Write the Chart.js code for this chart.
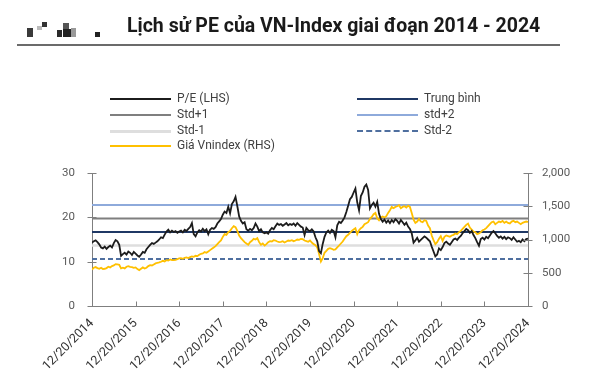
<!DOCTYPE html>
<html><head><meta charset="utf-8">
<script src="https://cdn.jsdelivr.net/npm/chart.js@4"></script>
<style>
html,body{margin:0;padding:0;background:#fff;}
#wrap{position:relative;width:602px;height:376px;overflow:hidden;font-family:Roboto,"Noto Sans",sans-serif;}
#c{position:absolute;left:0;top:0;}
#title{position:absolute;left:127px;top:14px;font-size:19.5px;font-weight:700;color:#1a1a1a;white-space:nowrap;}
#rule{position:absolute;left:17px;top:44px;width:543px;height:2px;background:#6b6b6b;}
.blk{position:absolute;}
.leg{position:absolute;font-size:12px;color:#404040;white-space:nowrap;}
.sw{position:absolute;width:61px;height:0;}
</style></head>
<body><div id="wrap">
<canvas id="c" width="602" height="376"></canvas>
<div class="blk" style="left:27px;top:28px;width:6px;height:9px;background:#3a3a3a"></div>
<div class="blk" style="left:37px;top:26px;width:5px;height:4px;background:#bbb"></div>
<div class="blk" style="left:42px;top:22px;width:5px;height:5px;background:#333"></div>
<div class="blk" style="left:57px;top:30px;width:5px;height:7px;background:#2a2a2a"></div>
<div class="blk" style="left:63px;top:23px;width:6px;height:6px;background:#555"></div>
<div class="blk" style="left:63px;top:29px;width:8px;height:8px;background:#222"></div>
<div class="blk" style="left:71px;top:28px;width:5px;height:9px;background:#999"></div>
<div class="blk" style="left:95px;top:32px;width:5px;height:5px;background:#222"></div>
<div id="title">Lịch sử PE của VN-Index giai đoạn 2014 - 2024</div>
<div id="rule"></div>
<div id="legend"></div>
</div>
<script>
// ---------- DATA ----------
const xTickLabels = ['12/20/2014','12/20/2015','12/20/2016','12/20/2017','12/20/2018','12/20/2019','12/20/2020','12/20/2021','12/20/2022','12/20/2023','12/20/2024'];
const pointsPerYear = 24; // semi-monthly readings starting 12/20/2014

const peValues = [
 14.3,14.6,14.8,14.4,13.9,13.2,13.0,13.4,12.9,13.3,13.6,13.2,14.2,14.9,14.6,13.8,11.3,11.7,12.0,11.6,12.3,12.0,11.5,12.2,
 11.8,11.4,11.1,11.6,12.2,12.0,12.8,13.3,13.8,14.2,14.0,14.3,14.6,15.0,15.5,15.3,16.1,16.8,17.2,16.6,17.0,16.7,16.9,16.5,
 16.8,17.0,16.6,17.2,16.9,17.4,17.8,18.7,16.2,15.7,16.6,17.1,16.8,17.4,16.9,17.3,16.2,17.2,17.6,17.4,17.8,18.6,19.1,19.6,
 20.6,21.3,21.0,22.4,20.9,23.0,23.6,24.6,22.5,20.2,19.2,18.6,18.9,17.3,17.0,17.4,17.1,17.6,18.6,17.9,16.9,17.3,16.6,16.4,
 16.6,16.3,17.1,17.6,17.3,18.0,18.6,18.3,18.5,18.1,18.4,18.7,18.2,18.5,18.3,18.6,18.1,18.7,18.3,17.9,17.7,16.0,17.6,17.1,
 16.9,17.3,16.8,15.5,14.6,12.4,11.9,14.0,15.6,16.6,17.0,16.5,17.2,16.9,15.5,18.2,19.0,18.7,19.3,20.0,21.2,22.6,24.1,24.6,
 25.6,26.5,23.4,21.6,24.8,25.6,26.9,27.4,26.2,22.0,22.8,23.3,22.4,23.5,20.8,19.6,19.0,19.5,18.8,19.3,18.7,19.4,18.9,19.6,
 19.2,18.6,19.4,18.9,18.3,18.8,17.9,17.4,16.4,14.3,14.8,15.4,14.5,14.9,15.3,15.7,15.4,15.0,14.6,13.4,12.3,11.2,11.6,13.0,
 12.6,13.3,14.2,14.5,14.1,13.8,14.4,15.0,15.2,14.9,15.4,15.8,16.4,16.9,17.4,17.1,16.5,16.9,16.0,15.3,14.4,13.6,15.1,15.4,
 15.0,15.6,15.3,15.9,16.5,16.9,16.4,15.8,15.4,15.7,15.2,15.6,15.1,15.5,15.3,14.9,15.5,15.0,14.5,14.7,14.4,15.0,14.6,15.1,
 15.2
];

const vniValues = [
 545,575,585,570,560,575,555,560,570,590,580,600,610,630,625,620,565,575,565,590,600,590,585,575,
 580,555,540,560,580,565,575,600,615,610,625,640,650,655,665,680,670,690,685,700,690,690,695,705,
 715,720,710,725,730,720,735,745,740,755,750,770,785,790,810,800,820,840,860,880,900,930,960,985,
 1040,1080,1070,1110,1130,1170,1200,1185,1130,1060,1020,990,960,940,920,960,980,1010,1000,1020,960,920,940,910,
 930,960,975,970,990,985,970,960,965,975,955,970,985,980,990,975,985,1000,995,1010,1005,985,975,965,
 985,955,930,915,880,780,670,720,800,830,860,870,860,845,850,880,910,940,970,1010,1050,1070,1100,1130,
 1150,1170,1080,1140,1170,1190,1230,1245,1260,1310,1340,1380,1400,1320,1290,1330,1345,1330,1350,1400,1440,1490,1470,1490,
 1500,1515,1470,1490,1500,1480,1510,1490,1400,1300,1250,1270,1310,1270,1260,1290,1280,1210,1170,1060,990,930,960,1010,
 1050,980,1040,1060,1050,1040,1060,1070,1090,1080,1110,1130,1160,1190,1220,1240,1180,1150,1120,1110,1080,1090,1110,1140,
 1150,1170,1200,1230,1260,1270,1230,1250,1270,1260,1280,1250,1270,1250,1240,1270,1280,1260,1270,1250,1230,1250,1260,1270,
 1265
];

const bandLabels = ['Trung bình','Std+1','std+2','Std-1','Std-2'];
const bandValues = [16.7, 19.75, 22.8, 13.65, 10.6];

const leftTicks = [0,10,20,30];
const rightTicks = [0,500,1000,1500,2000];

// ---------- STYLES ----------
const C = {
  pe:'#1c1c1c', vni:'#ffc000',
  'Trung bình':'#1f3864', 'Std+1':'#7f7f7f', 'std+2':'#8eaadb', 'Std-1':'#dedede', 'Std-2':'#4f6f9f'
};
const axisColor = '#7f7f7f';
const lastX = (peValues.length-1)/pointsPerYear;

const toXY = arr => arr.map((v,i)=>({x:i/pointsPerYear, y:v}));

const bandDatasets = bandLabels.map((lab,k)=>({
  label: lab, yAxisID:'y',
  data: [{x:0,y:bandValues[k]},{x:lastX,y:bandValues[k]}],
  borderColor: C[lab], borderWidth: lab==='Std-1'?2.5:2,
  borderDash: lab==='Std-2'?[5,3]:[],
  pointRadius:0, fill:false, order: 5
}));

const datasets = [
  ...bandDatasets,
  {label:'Giá Vnindex (RHS)', yAxisID:'y2', data: toXY(vniValues), borderColor:C.vni, borderWidth:1.8, pointRadius:0, tension:0, order:2},
  {label:'P/E (LHS)', yAxisID:'y', data: toXY(peValues), borderColor:C.pe, borderWidth:1.8, pointRadius:0, tension:0, order:1}
];

// crossing tick marks plugin
const tickPlugin = {
  id:'tickmarks',
  afterDraw(chart){
    const ctx = chart.ctx, a = chart.chartArea;
    ctx.save(); ctx.strokeStyle = axisColor; ctx.lineWidth = 1;
    const yl = chart.scales.y, yr = chart.scales.y2, xs = chart.scales.x;
    leftTicks.forEach(v=>{ const p=Math.round(yl.getPixelForValue(v))+0.5; ctx.beginPath(); ctx.moveTo(a.left-4.5,p); ctx.lineTo(a.left+4.5,p); ctx.stroke(); });
    rightTicks.forEach(v=>{ const p=Math.round(yr.getPixelForValue(v))+0.5; ctx.beginPath(); ctx.moveTo(a.right-4.5,p); ctx.lineTo(a.right+4.5,p); ctx.stroke(); });
    xTickLabels.forEach((l,i)=>{ const p=Math.round(xs.getPixelForValue(i))+0.5; ctx.beginPath(); ctx.moveTo(p,a.bottom); ctx.lineTo(p,a.bottom-4.5); ctx.stroke(); });
    ctx.restore();
  }
};

const tickFont = {family:'Roboto', size:11.5};
new Chart(document.getElementById('c'), {
  type:'line',
  data:{datasets},
  plugins:[tickPlugin],
  options:{
    responsive:false, animation:false, events:[],
    layout:{padding:{top:173,left:0,right:0,bottom:0}},
    plugins:{legend:{display:false}, tooltip:{enabled:false}, title:{display:false}},
    scales:{
      x:{type:'linear', min:0, max:xTickLabels.length-1,
         afterFit:s=>{s.height=70;},
         afterBuildTicks:s=>{s.ticks = xTickLabels.map((l,i)=>({value:i}));},
         ticks:{autoSkip:false, maxRotation:45, minRotation:45, padding:10, color:'#333', font:{family:'Roboto',size:12.5},
                callback:(v)=>xTickLabels[v]},
         grid:{display:false, drawTicks:false},
         border:{display:true, color:axisColor, width:1}},
      y:{position:'left', min:0, max:30,
         afterFit:s=>{s.width=92;},
         afterBuildTicks:s=>{s.ticks = leftTicks.map(v=>({value:v}));},
         ticks:{padding:17, color:'#595959', font:tickFont},
         grid:{display:false, drawTicks:false},
         border:{display:true, color:axisColor, width:1}},
      y2:{position:'right', min:0, max:2000,
         afterFit:s=>{s.width=74;},
         afterBuildTicks:s=>{s.ticks = rightTicks.map(v=>({value:v}));},
         ticks:{padding:14, color:'#595959', font:tickFont, callback:v=>v.toLocaleString('en-US')},
         grid:{display:false, drawTicks:false},
         border:{display:true, color:axisColor, width:1}}
    }
  }
});

// ---------- HTML legend built from datasets ----------
const legendItems = [
  ['P/E (LHS)',0,0],['Trung bình',1,0],
  ['Std+1',0,1],['std+2',1,1],
  ['Std-1',0,2],['Std-2',1,2],
  ['Giá Vnindex (RHS)',0,3]
];
const colX = [110, 357], rowY = [99, 115, 130.5, 146];
const lg = document.getElementById('legend');
legendItems.forEach(([lab,col,row])=>{
  const ds = datasets.find(d=>d.label===lab);
  const sw = document.createElement('div'); sw.className='sw';
  sw.style.left = colX[col]+'px';
  sw.style.top = (rowY[row]-1)+'px';
  const w = ds.borderWidth>=2.5?3:2;
  sw.style.borderTop = w+'px '+(ds.borderDash && ds.borderDash.length?'dashed':'solid')+' '+ds.borderColor;
  lg.appendChild(sw);
  const t = document.createElement('div'); t.className='leg'; t.textContent = lab;
  t.style.left = (colX[col]+67)+'px'; t.style.top = (rowY[row]-8)+'px';
  lg.appendChild(t);
});
</script>
</body></html>
